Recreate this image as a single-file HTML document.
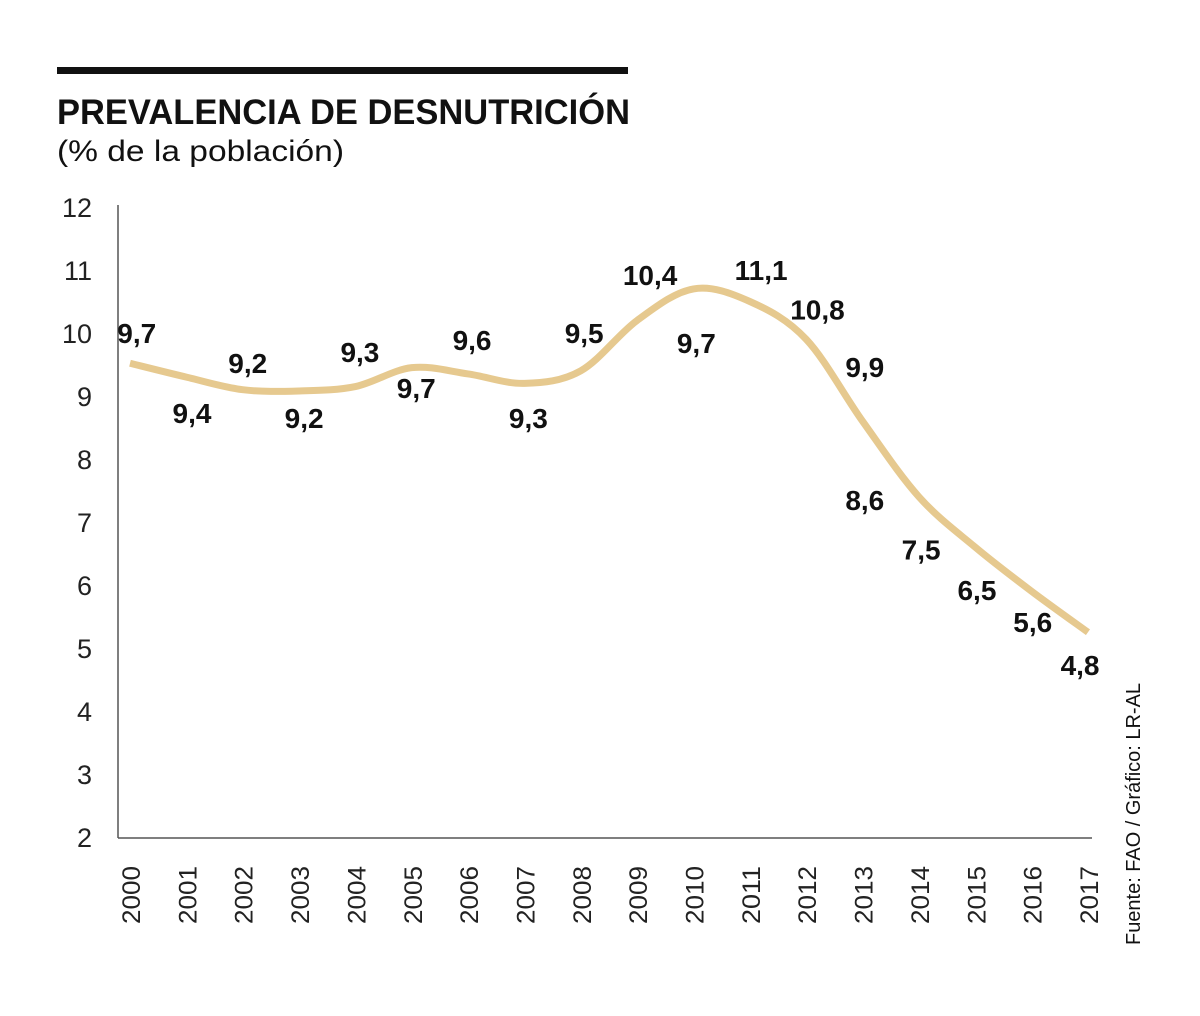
<!DOCTYPE html>
<html><head><meta charset="utf-8"><style>
body{margin:0;background:#fff;}
svg text{font-family:"Liberation Sans",sans-serif;}
</style></head><body>
<svg id="chart" width="1200" height="1011" viewBox="0 0 1200 1011" xmlns="http://www.w3.org/2000/svg">
<rect x="57" y="67" width="571" height="7" fill="#111"/>
<text x="57" y="124" font-size="35" font-weight="bold" fill="#111" textLength="573" lengthAdjust="spacingAndGlyphs">PREVALENCIA DE DESNUTRICIÓN</text>
<text x="57" y="161" font-size="30" fill="#111" textLength="287" lengthAdjust="spacingAndGlyphs">(% de la población)</text>
<line x1="118" y1="205" x2="118" y2="838" stroke="#555" stroke-width="1.5"/>
<line x1="118" y1="838" x2="1092" y2="838" stroke="#555" stroke-width="1.5"/>
<g id="yt"></g><g id="xt"></g>
<path id="line" fill="none" stroke="#e6c98f" stroke-width="7" stroke-linecap="butt"/>
<g id="lbl"></g>
<text transform="translate(1140,945) rotate(-90)" font-size="20" fill="#111" textLength="262" lengthAdjust="spacingAndGlyphs">Fuente: FAO / Gráfico: LR-AL</text>
</svg>
<script>
const years=["2000","2001","2002","2003","2004","2005","2006","2007","2008","2009","2010","2011","2012","2013","2014","2015","2016","2017"];
const values=[9.52,9.3,9.1,9.08,9.15,9.45,9.35,9.2,9.4,10.2,10.7,10.5,9.9,8.6,7.4,6.6,5.9,5.25];
const yTicks=[2,3,4,5,6,7,8,9,10,11,12];
const labelText=["9,7","9,4","9,2","9,2","9,3","9,7","9,6","9,3","9,5","10,4","9,7","11,1","10,8","9,9","8,6","7,5","6,5","5,6","4,8"];
const labelIdx=[0.12,1.1,2.09,3.09,4.08,5.08,6.07,7.07,8.06,9.23,10.05,11.2,12.2,13.04,13.04,14.04,15.03,16.02,16.86];
const labelVal=[10.0,8.73,9.52,8.65,9.7,9.13,9.89,8.65,10.0,10.92,9.84,11.0,10.37,9.46,7.35,6.56,5.92,5.41,4.73];
const NS="http://www.w3.org/2000/svg";
const X=i=>130+i*56.35, Y=v=>837-(v-2)*63;
const yt=document.getElementById('yt');
yTicks.forEach(t=>{const e=document.createElementNS(NS,'text');
e.setAttribute('x',92);e.setAttribute('y',Y(t)+10);e.setAttribute('text-anchor','end');
e.setAttribute('font-size','27');e.setAttribute('fill','#222');e.textContent=t;


yt.appendChild(e);});
const xt=document.getElementById('xt');
years.forEach((y,i)=>{const e=document.createElementNS(NS,'text');
e.setAttribute('transform',`translate(${X(i)+10},866) rotate(-90)`);e.setAttribute('text-anchor','end');
e.setAttribute('font-size','25');e.setAttribute('fill','#222');e.setAttribute('textLength','58');e.setAttribute('lengthAdjust','spacingAndGlyphs');e.textContent=y;


xt.appendChild(e);});
const p=values.map((v,i)=>[X(i),Y(v)]);
let d=`M${p[0][0]},${p[0][1]}`;
for(let i=0;i<p.length-1;i++){const p0=p[Math.max(0,i-1)],p1=p[i],p2=p[i+1],p3=p[Math.min(p.length-1,i+2)];
d+=` C${p1[0]+(p2[0]-p0[0])/6},${p1[1]+(p2[1]-p0[1])/6} ${p2[0]-(p3[0]-p1[0])/6},${p2[1]-(p3[1]-p1[1])/6} ${p2[0]},${p2[1]}`;}
document.getElementById('line').setAttribute('d',d);
const lb=document.getElementById('lbl');
labelText.forEach((t,i)=>{const e=document.createElementNS(NS,'text');
e.setAttribute('x',X(labelIdx[i]));e.setAttribute('y',Y(labelVal[i])+10);e.setAttribute('text-anchor','middle');
e.setAttribute('font-size','28');e.setAttribute('font-weight','bold');e.setAttribute('fill','#111');e.textContent=t;


lb.appendChild(e);});
</script>
</body></html>
